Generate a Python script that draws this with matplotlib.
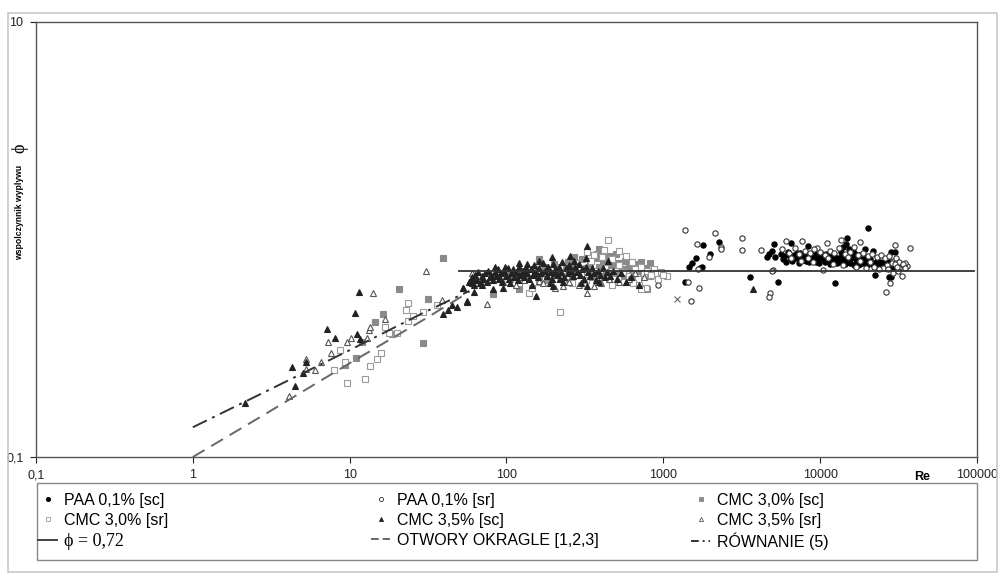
import matplotlib
matplotlib.use('Agg')
import matplotlib.pyplot as plt
from matplotlib.lines import Line2D
from matplotlib.patches import Rectangle

plt.rcParams['font.family'] = ['Liberation Sans', 'DejaVu Sans']

# (Re, phi) pairs
paa_sc = [
  (1380, 0.64), (1455, 0.745), (1530, 0.777), (1620, 0.82), (1720, 0.737), (1755, 0.75),
  (1780, 0.943), (1990, 0.855), (2280, 0.97), (3550, 0.67), (4600, 0.828), (4700, 0.855),
  (4950, 0.885), (5100, 0.95), (5150, 0.834), (5400, 0.636), (12500, 0.633), (20100, 1.13),
  (14800, 1.02), (6500, 0.967), (8400, 0.933), (27400, 0.675), (22400, 0.687), (28200, 0.67),
  (14000, 0.92), (14600, 0.95), (15200, 0.90), (13600, 0.88), (16200, 0.89), (19300, 0.90),
  (21700, 0.885), (30100, 0.873), (28300, 0.873),
  (5600, 0.86), (5800, 0.81), (5900, 0.84), (6100, 0.79), (6200, 0.88), (6400, 0.83),
  (6600, 0.80), (6800, 0.85), (7000, 0.82), (7100, 0.87), (7300, 0.78), (7500, 0.84),
  (7700, 0.81), (7900, 0.86), (8100, 0.80), (8300, 0.83), (8500, 0.79), (8700, 0.85),
  (8900, 0.82), (9100, 0.88), (9300, 0.80), (9600, 0.84), (9800, 0.78), (10100, 0.83),
  (10300, 0.86), (10600, 0.81), (10800, 0.79), (11100, 0.84), (11300, 0.82), (11600, 0.77),
  (11900, 0.85), (12200, 0.80), (12500, 0.83), (12800, 0.78), (13100, 0.82), (13400, 0.79),
  (13800, 0.86), (14100, 0.81), (14500, 0.77), (14800, 0.84), (15200, 0.80), (15600, 0.78),
  (16000, 0.83), (16400, 0.76), (16800, 0.81), (17200, 0.79), (17600, 0.85), (18000, 0.77),
  (18500, 0.80), (19000, 0.78), (19400, 0.82), (19900, 0.76), (20400, 0.79), (20900, 0.81),
  (21400, 0.77), (21900, 0.78), (22500, 0.75), (23000, 0.80), (23600, 0.77), (24200, 0.79),
  (24800, 0.76), (25400, 0.78), (26000, 0.75), (26700, 0.77), (27300, 0.79), (28000, 0.76),
  (28700, 0.74), (29400, 0.77), (30100, 0.75), (31000, 0.76),
  (6300, 0.85), (7400, 0.87), (8800, 0.84), (9900, 0.82), (10900, 0.86), (12000, 0.84),
  (13000, 0.80), (15800, 0.82), (17000, 0.78), (18200, 0.81), (20000, 0.80), (22000, 0.77),
  (24000, 0.76), (26000, 0.80), (17400, 0.76), (11400, 0.80), (9400, 0.79), (16600, 0.86),
]

paa_sr = [
  (920, 0.62), (1365, 1.10), (1430, 0.636), (1495, 0.523), (1634, 0.95), (1660, 0.73),
  (1700, 0.596), (1956, 0.828), (2150, 1.07), (2325, 0.927), (2340, 0.90), (3155, 1.02),
  (3190, 0.895), (4180, 0.895), (5000, 0.724), (4800, 0.57), (4700, 0.542), (4950, 0.72),
  (6040, 0.984), (7670, 0.984), (9500, 0.917), (11000, 0.967), (10500, 0.724), (13500, 1.0),
  (17900, 0.97), (30100, 0.943), (37500, 0.911), (33400, 0.68), (27800, 0.633), (26200, 0.574),
  (34000, 0.763), (36000, 0.758), (32000, 0.74), (29000, 0.70), (31500, 0.72), (35000, 0.78),
  (5700, 0.90), (6300, 0.87), (6900, 0.91), (7300, 0.86), (8000, 0.89), (8600, 0.87),
  (9200, 0.90), (10000, 0.88), (10700, 0.85), (11500, 0.89), (12300, 0.87), (13200, 0.91),
  (14300, 0.86), (15400, 0.88), (16500, 0.92), (17500, 0.85), (18800, 0.87), (20200, 0.84),
  (21500, 0.86), (23000, 0.83), (24500, 0.85), (26000, 0.82), (27500, 0.84), (29000, 0.80),
  (30500, 0.82), (32000, 0.79), (33500, 0.77), (28500, 0.78), (26800, 0.76), (25300, 0.74),
  (23800, 0.73), (22000, 0.75), (19500, 0.74), (16800, 0.75), (14000, 0.76), (12000, 0.77),
  (9000, 0.79), (7600, 0.80), (6500, 0.82), (11200, 0.82), (18000, 0.80), (30000, 0.77),
  (34500, 0.74), (31000, 0.75), (27000, 0.73), (20800, 0.79), (15000, 0.83), (8400, 0.82),
]

cmc30_sc = [
  (39.3, 0.82), (20.6, 0.592), (31.5, 0.533), (16.3, 0.453), (14.5, 0.416), (18.6, 0.367),
  (11.9, 0.339), (10.9, 0.286), (9.4, 0.264), (29.2, 0.333), (82, 0.56), (120, 0.59),
  (785, 0.595), (820, 0.78), (720, 0.79), (500, 0.86), (390, 0.90), (270, 0.835), (162, 0.81),
  (100, 0.70), (110, 0.67), (125, 0.72), (135, 0.69), (150, 0.73), (160, 0.68), (175, 0.75),
  (185, 0.71), (200, 0.77), (215, 0.70), (230, 0.74), (245, 0.79), (260, 0.72), (275, 0.76),
  (290, 0.70), (305, 0.81), (320, 0.74), (340, 0.77), (355, 0.71), (370, 0.82), (390, 0.75),
  (410, 0.79), (430, 0.72), (450, 0.84), (470, 0.76), (495, 0.70), (520, 0.78), (545, 0.73),
  (570, 0.80), (600, 0.75), (630, 0.69), (660, 0.77), (700, 0.72), (740, 0.70), (780, 0.74),
  (820, 0.68), (870, 0.71), (350, 0.67), (420, 0.68), (480, 0.66), (560, 0.68), (650, 0.65),
  (250, 0.66), (180, 0.65), (380, 0.86),
]

cmc30_sr = [
  (8.7, 0.311), (7.95, 0.251), (9.6, 0.218), (9.4, 0.272), (12.6, 0.228), (13.5, 0.262),
  (15, 0.283), (15.8, 0.302), (16.9, 0.397), (17.9, 0.370), (19.9, 0.370), (22.9, 0.474),
  (23.5, 0.509), (23.7, 0.421), (25.5, 0.446), (29.2, 0.466), (35.9, 0.50), (73, 0.67),
  (447, 1.0), (220, 0.466), (140, 0.566), (520, 0.89), (420, 0.895), (360, 0.85), (325, 0.88),
  (1050, 0.68), (930, 0.66), (770, 0.60), (720, 0.59), (74, 0.67), (146, 0.60),
  (105, 0.66), (120, 0.63), (140, 0.70), (160, 0.64), (180, 0.72), (200, 0.66), (220, 0.75),
  (240, 0.68), (260, 0.63), (280, 0.78), (300, 0.70), (320, 0.65), (345, 0.80), (365, 0.72),
  (385, 0.67), (405, 0.83), (425, 0.74), (445, 0.69), (470, 0.81), (495, 0.66), (520, 0.76),
  (550, 0.71), (575, 0.84), (600, 0.68), (630, 0.79), (660, 0.73), (690, 0.66), (720, 0.75),
  (750, 0.70), (790, 0.72), (830, 0.69), (870, 0.73), (910, 0.70), (960, 0.71), (1000, 0.69),
  (560, 0.64), (640, 0.63), (700, 0.62), (470, 0.62),
]

cmc35_sc = [
  (2.15, 0.178), (4.27, 0.258), (4.47, 0.211), (5.02, 0.243), (5.3, 0.272), (7.14, 0.388),
  (8.1, 0.354), (10.8, 0.461), (11.4, 0.572), (11.1, 0.368), (11.7, 0.347), (39.3, 0.453),
  (42.4, 0.474), (44.8, 0.50), (48, 0.491), (55.6, 0.522), (53, 0.60), (61, 0.66), (98, 0.75),
  (135, 0.77), (155, 0.55), (195, 0.83), (197, 0.61), (255, 0.84), (325, 0.933), (325, 0.61),
  (447, 0.80), (3720, 0.592), (52.5, 0.60), (56, 0.518), (60, 0.63), (62, 0.576), (82, 0.59),
  (58, 0.64), (60, 0.67), (62, 0.62), (63, 0.69), (65, 0.65), (66, 0.71), (68, 0.63), (70, 0.68),
  (71, 0.66), (73, 0.70), (75, 0.64), (76, 0.72), (78, 0.67), (80, 0.69), (82, 0.65), (84, 0.71),
  (86, 0.68), (88, 0.73), (90, 0.66), (92, 0.70), (94, 0.64), (96, 0.72), (99, 0.68), (102, 0.74),
  (104, 0.66), (107, 0.70), (110, 0.73), (112, 0.67), (115, 0.71), (118, 0.65), (121, 0.75),
  (124, 0.69), (127, 0.72), (130, 0.67), (133, 0.74), (136, 0.70), (140, 0.66), (143, 0.73),
  (147, 0.69), (150, 0.76), (154, 0.71), (158, 0.67), (162, 0.74), (166, 0.70), (170, 0.78),
  (175, 0.72), (180, 0.68), (184, 0.75), (189, 0.71), (194, 0.66), (199, 0.77), (204, 0.73),
  (210, 0.69), (215, 0.75), (221, 0.71), (227, 0.79), (233, 0.67), (239, 0.74), (245, 0.70),
  (252, 0.76), (259, 0.72), (266, 0.68), (273, 0.75), (280, 0.71), (288, 0.77), (296, 0.69),
  (304, 0.73), (312, 0.66), (320, 0.75), (330, 0.71), (340, 0.68), (350, 0.74), (360, 0.70),
  (372, 0.65), (384, 0.72), (396, 0.69), (410, 0.74), (425, 0.67), (440, 0.71), (460, 0.68),
  (480, 0.72), (510, 0.66), (540, 0.70), (580, 0.64), (620, 0.67), (700, 0.62),
  (70, 0.62), (85, 0.75), (95, 0.60), (105, 0.63), (120, 0.78), (145, 0.62), (160, 0.80),
  (190, 0.63), (230, 0.64), (270, 0.80), (300, 0.63), (320, 0.82), (390, 0.64), (200, 0.70),
  (250, 0.73), (150, 0.70), (120, 0.69), (90, 0.68), (180, 0.74), (220, 0.66),
]

cmc35_sr = [
  (4.12, 0.191), (5.27, 0.281), (5.3, 0.253), (6.0, 0.251), (6.6, 0.274), (7.3, 0.337),
  (7.6, 0.300), (9.6, 0.337), (10.2, 0.351), (12.9, 0.354), (13.2, 0.384), (13.5, 0.397),
  (14.1, 0.566), (16.8, 0.430), (30.6, 0.719), (38.6, 0.527), (75, 0.505), (230, 0.61),
  (205, 0.60), (325, 0.57), (660, 0.70), (162, 0.646), (360, 0.61),
  (60, 0.70), (80, 0.66), (95, 0.64), (115, 0.62), (130, 0.65), (170, 0.63), (250, 0.64),
  (290, 0.62), (400, 0.63), (450, 0.66), (520, 0.64), (600, 0.66), (750, 0.67), (180, 0.68),
  (280, 0.69), (110, 0.69),
]

other_pts = [(1225, 0.532)]

# lines
phi_const = 0.72
phi_const_re = [50, 95000]
otwory_re = [1, 3, 10, 30, 58]
otwory_phi = [0.1, 0.16, 0.27, 0.43, 0.575]
rownanie_re = [1, 3, 10, 30, 58]
rownanie_phi = [0.137, 0.202, 0.310, 0.463, 0.58]

x_ticks = [0.1, 1, 10, 100, 1000, 10000, 100000]
x_labels = ['0,1', '1', '10', '100', '1000', '10000', '100000']


def xy(pairs):
  return [p[0] for p in pairs], [p[1] for p in pairs]


fig = plt.figure(figsize=(9.98, 5.74), dpi=100)
ax = fig.add_axes([36 / 998, 1 - 457 / 574, 941 / 998, 435 / 574])

ms = 3.8
styles = [
  (paa_sc, dict(marker='o', mfc='black', mec='black')),
  (paa_sr, dict(marker='o', mfc='white', mec='#333333')),
  (cmc30_sc, dict(marker='s', mfc='#8a8a8a', mec='#8a8a8a')),
  (cmc30_sr, dict(marker='s', mfc='white', mec='#9a9a9a')),
  (cmc35_sr, dict(marker='^', mfc='white', mec='#555555')),
  (cmc35_sc, dict(marker='^', mfc='#222222', mec='#222222')),
]
for pairs, st in styles:
  x, y = xy(pairs)
  ax.plot(x, y, linestyle='none', markersize=ms, markeredgewidth=0.8, **st)

x, y = xy(other_pts)
ax.plot(x, y, linestyle='none', marker='x', color='#666666', markersize=4, mew=0.8)

ax.plot(phi_const_re, [phi_const, phi_const], color='#333333', lw=1.3)
ax.plot(otwory_re, otwory_phi, color='#666666', lw=1.4, dashes=(7, 4))
ax.plot(rownanie_re, rownanie_phi, color='#333333', lw=1.4, dashes=(8, 3, 1.5, 3))

ax.set_xscale('log')
ax.set_yscale('log')
ax.set_xlim(0.1, 100000)
ax.set_ylim(0.1, 10)
ax.set_xticks(x_ticks)
ax.set_xticklabels(x_labels)
ax.set_yticks([0.1, 10])
ax.set_yticklabels(['0,1', '10'])
ax.minorticks_off()
ax.tick_params(labelsize=9, colors='#222222', length=4, width=0.8, pad=5)
for s in ax.spines.values():
  s.set_color('#555555')
  s.set_linewidth(1.0)

ax.text(-0.017, (457 - 212) / 435, 'wspolczynnik wyplywu', transform=ax.transAxes, rotation=90,
        ha='center', va='center', fontsize=6.2, fontweight='bold')
ax.text(-0.017, (457 - 148) / 435, '\u03d5', transform=ax.transAxes, rotation=90,
        ha='center', va='center', fontsize=13, family=['Liberation Serif', 'DejaVu Serif'])
fig.text(922 / 998, 1 - 477 / 574, 'Re', ha='center', va='center', fontsize=9, fontweight='bold')


def mk(marker, fc, ec):
  return Line2D([], [], linestyle='none', marker=marker, mfc=fc, mec=ec, markersize=3, mew=0.6)


# legend: box plus three columns
fig.patches.append(Rectangle((37 / 998, 1 - 560 / 574), 940 / 998, 77 / 574,
                             transform=fig.transFigure, fill=False,
                             edgecolor='#888888', lw=1.0))
columns = [
  (38, [mk('o', 'black', 'black'), mk('s', 'white', '#9a9a9a'),
        Line2D([], [], color='#333333', lw=1.3)],
   ['PAA 0,1% [sc]', 'CMC 3,0% [sr]', '\u03d5 = 0,72']),
  (371, [mk('o', 'white', '#333333'), mk('^', '#222222', '#222222'),
         Line2D([], [], color='#666666', lw=1.4, dashes=(4, 2))],
   ['PAA 0,1% [sr]', 'CMC 3,5% [sc]', 'OTWORY OKRAGLE [1,2,3]']),
  (691, [mk('s', '#8a8a8a', '#8a8a8a'), mk('^', 'white', '#555555'),
         Line2D([], [], color='#333333', lw=1.4, dashes=(4, 2, 1, 2))],
   ['CMC 3,0% [sc]', 'CMC 3,5% [sr]', 'R\u00d3WNANIE (5)']),
]
for x0, hs, labs in columns:
  leg = fig.legend(hs, labs, loc='upper left', bbox_to_anchor=(x0 / 998, 1 - 493 / 574),
                   fontsize=11.5, frameon=False, handlelength=1.2, handletextpad=0.4,
                   labelspacing=0.3, borderpad=0, borderaxespad=0)
  for t in leg.get_texts():
    if t.get_text().startswith('\u03d5'):
      t.set_family(['Liberation Serif', 'DejaVu Serif'])
      t.set_fontsize(13)

fig.patches.append(Rectangle((8 / 998, 1 - 572 / 574), 989 / 998, 559 / 574,
                             transform=fig.transFigure, fill=False,
                             edgecolor='#c8c8c8', lw=1.2))

fig.savefig('out.png', dpi=100)
